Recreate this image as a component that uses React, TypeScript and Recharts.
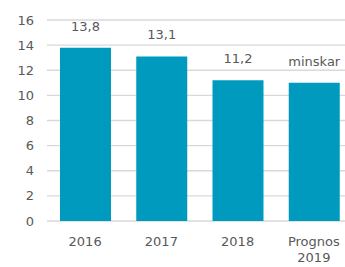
import { BarChart, Bar, XAxis, YAxis, CartesianGrid, LabelList } from 'recharts';

const categories = ['2016', '2017', '2018', 'Prognos\n2019'];
const values = [13.8, 13.1, 11.2, 11.0];
const barLabels = ['13,8', '13,1', '11,2', 'minskar'];
const yTicks = [0, 2, 4, 6, 8, 10, 12, 14, 16];

const data = categories.map((name, i) => ({ name, value: values[i], label: barLabels[i] }));

const FONT = '"DejaVu Sans", sans-serif';
const TEXT = '#595959';

const XTick = (props: any) => {
  const { x, y, payload } = props;
  const lines = String(payload.value).split('\n');
  return (
    <text x={x} y={y + 25} textAnchor='middle' fill={TEXT} fontSize={13} fontFamily={FONT}>
      {lines.map((l, i) => (
        <tspan key={i} x={x} dy={i === 0 ? 0 : 16}>
          {l}
        </tspan>
      ))}
    </text>
  );
};

const App = () => {
  return (
    <div style={{ position: 'absolute', left: 0, top: 0, width: 345, height: 267, overflow: 'hidden' }}>
      <BarChart
        width={352}
        height={267}
        data={data}
        margin={{ top: 20, right: 0, left: 0, bottom: 6 }}
      >
        <CartesianGrid vertical={false} stroke='#d9d9d9' strokeWidth={1.3} />
        <XAxis
          dataKey='name'
          axisLine={false}
          tickLine={false}
          tickSize={0}
          tickMargin={0}
          height={40}
          interval={0}
          tick={<XTick />}
        />
        <YAxis
          domain={[0, 16]}
          ticks={yTicks}
          axisLine={false}
          tickLine={false}
          tickSize={0}
          tickMargin={13}
          width={47}
          tick={{ fill: TEXT, fontSize: 13, fontFamily: FONT }}
        />
        <Bar dataKey='value' fill='#009ABF' barSize={51} isAnimationActive={false}>
          <LabelList
            dataKey='label'
            position='top'
            offset={17}
            fill={TEXT}
            fontSize={13}
            fontFamily={FONT}
          />
        </Bar>
      </BarChart>
    </div>
  );
};

export default App;
